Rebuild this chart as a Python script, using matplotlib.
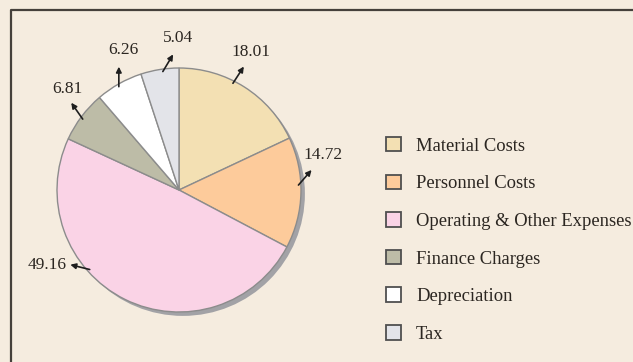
import numpy as np
import matplotlib.pyplot as plt
from matplotlib.patches import Circle, Patch
from matplotlib.lines import Line2D

# cost breakdown, percent
categories = ["Material Costs", "Personnel Costs", "Operating & Other Expenses",
              "Finance Charges", "Depreciation", "Tax"]
values = [18.01, 14.72, 49.16, 6.81, 6.26, 5.04]
colors = ["#F3E0B3", "#FDCB9B", "#FAD3E6", "#BDBCA7", "#FFFFFF", "#E3E4E9"]

# leader arrows: nudge of the start angle (deg), arrow direction (deg),
# label offset from the arrow head in pixels
tail_nudge = [5.6, 3.7, -22.0, 0.7, 0.8, -1.3]
arrow_dir = [57, 49, 166, 125, 90, 59]
label_shift = [(7, 7), (11, 7), (-4, 0), (-4, 6), (5, 9), (5, 8)]

bg = "#F5ECDF"
ink = "#2B2621"
R_PX = 122.0  # pie radius in pixels

fig = plt.figure(figsize=(6.33, 3.62), dpi=100, facecolor=bg)
W, H = 633, 362
cx, cy = 179, 190
half = 170
ax = fig.add_axes([(cx - half) / W, (H - cy - half) / H, 2 * half / W, 2 * half / H])
ax.set_facecolor("none")

wedges, _ = ax.pie(values, colors=colors, startangle=90, counterclock=False,
                   radius=1.0, wedgeprops=dict(edgecolor="#8C8C8C", linewidth=1.0))
ax.add_patch(Circle((0.032, -0.032), 1.0, facecolor="#A2A2A6", edgecolor="none", zorder=0))
lim = half / R_PX
ax.set_xlim(-lim, lim)
ax.set_ylim(-lim, lim)
ax.set_aspect("equal")
ax.axis("off")

# value labels with small arrows pointing away from the slices
cum = np.cumsum([0] + values[:-1])
for i, v in enumerate(values):
    mid = 90 - (cum[i] + v / 2) * 3.6 + tail_nudge[i]
    t = np.radians(mid)
    tail = np.array([0.98 * np.cos(t), 0.98 * np.sin(t)])
    d = np.radians(arrow_dir[i])
    head = tail + (20 / R_PX) * np.array([np.cos(d), np.sin(d)])
    ax.annotate("", xy=head, xytext=tail,
                arrowprops=dict(arrowstyle="-|>", color="#1E1E1E", lw=1.2,
                                mutation_scale=8, shrinkA=0, shrinkB=0))
    sx, sy = label_shift[i]
    pos = head + np.array([sx, sy]) / R_PX
    if arrow_dir[i] > 150:
        ax.text(pos[0], pos[1], f"{v:.2f}", ha="right", va="center",
                family="Liberation Serif", fontsize=12.5, color=ink)
    else:
        ax.text(pos[0], pos[1], f"{v:.2f}", ha="center", va="bottom",
                family="Liberation Serif", fontsize=12.5, color=ink)

# legend
handles = [Patch(facecolor=c, edgecolor="#4F4F4F", linewidth=1.3) for c in colors]
fig.legend(handles, categories, loc="upper left",
           bbox_to_anchor=(386 / W, (H - 137) / H), frameon=False,
           prop=dict(family="Liberation Serif", size=13.4), labelcolor=ink,
           handlelength=0.82, handleheight=0.82, handletextpad=0.8,
           labelspacing=1.07, borderpad=0, borderaxespad=0)

# frame running off the right and bottom edges
fig.add_artist(Line2D([10.5 / W, 10.5 / W, 1.0], [0.0, 1 - 9.5 / H, 1 - 9.5 / H],
                      transform=fig.transFigure, color="#45403B", lw=1.6))

fig.savefig("out.png", dpi=100, facecolor=bg)
